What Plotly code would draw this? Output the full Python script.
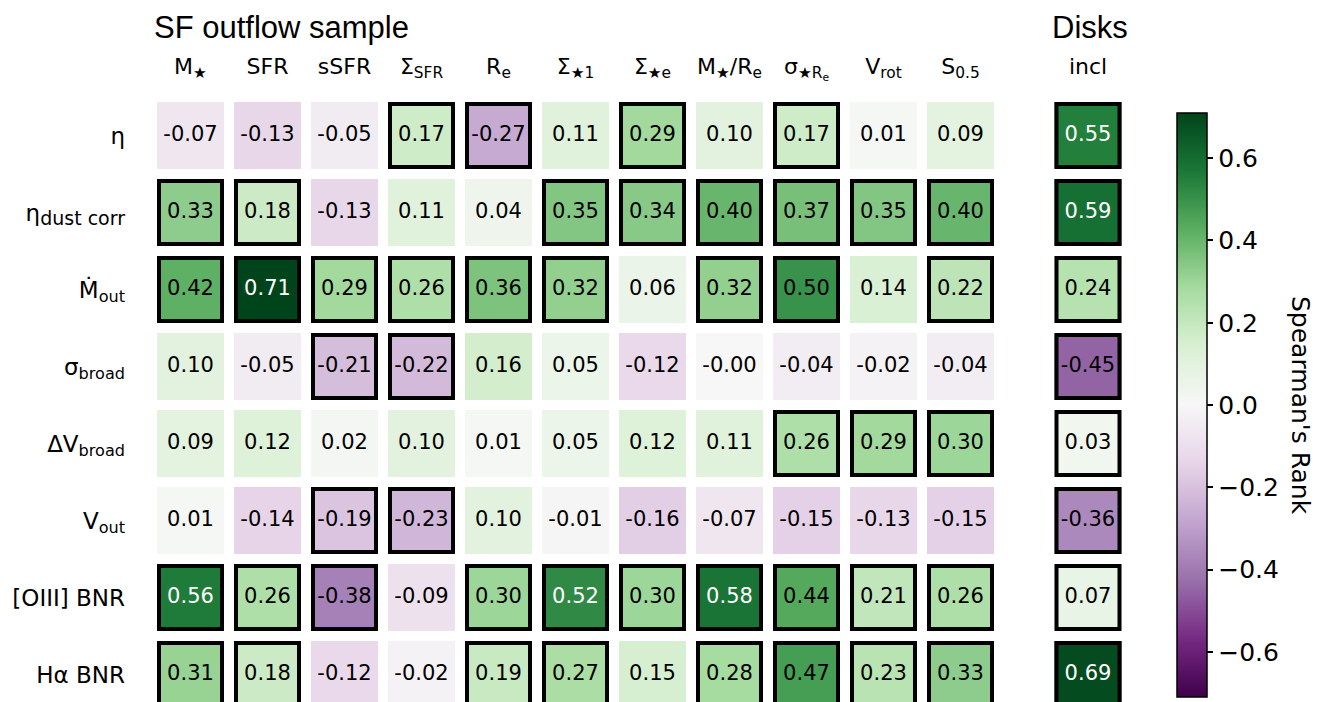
import plotly.graph_objects as go

# ---------------- data ----------------
col_labels = ["M<sub>★</sub>", "SFR", "sSFR", "Σ<sub>SFR</sub>", "R<sub>e</sub>",
              "Σ<sub>★1</sub>", "Σ<sub>★e</sub>", "M<sub>★</sub>/R<sub>e</sub>",
              "σ<sub>★R<sub>e</sub></sub>", "V<sub>rot</sub>", "S<sub>0.5</sub>"]
disk_labels = ["incl"]
row_labels = ["η", "η<sub><span style='font-size:19px'>dust corr</span></sub>",
              "Ṁ<sub>out</sub>", "σ<sub>broad</sub>",
              "ΔV<sub>broad</sub>", "V<sub>out</sub>", "[OIII] BNR", "Hα BNR"]

sf_values = [
    [-0.07, -0.13, -0.05, 0.17, -0.27, 0.11, 0.29, 0.10, 0.17, 0.01, 0.09],
    [0.33, 0.18, -0.13, 0.11, 0.04, 0.35, 0.34, 0.40, 0.37, 0.35, 0.40],
    [0.42, 0.71, 0.29, 0.26, 0.36, 0.32, 0.06, 0.32, 0.50, 0.14, 0.22],
    [0.10, -0.05, -0.21, -0.22, 0.16, 0.05, -0.12, -0.0, -0.04, -0.02, -0.04],
    [0.09, 0.12, 0.02, 0.10, 0.01, 0.05, 0.12, 0.11, 0.26, 0.29, 0.30],
    [0.01, -0.14, -0.19, -0.23, 0.10, -0.01, -0.16, -0.07, -0.15, -0.13, -0.15],
    [0.56, 0.26, -0.38, -0.09, 0.30, 0.52, 0.30, 0.58, 0.44, 0.21, 0.26],
    [0.31, 0.18, -0.12, -0.02, 0.19, 0.27, 0.15, 0.28, 0.47, 0.23, 0.33],
]
sf_significant = [
    [0, 0, 0, 1, 1, 0, 1, 0, 1, 0, 0],
    [1, 1, 0, 0, 0, 1, 1, 1, 1, 1, 1],
    [1, 1, 1, 1, 1, 1, 0, 1, 1, 0, 1],
    [0, 0, 1, 1, 0, 0, 0, 0, 0, 0, 0],
    [0, 0, 0, 0, 0, 0, 0, 0, 1, 1, 1],
    [0, 0, 1, 1, 0, 0, 0, 0, 0, 0, 0],
    [1, 1, 1, 0, 1, 1, 1, 1, 1, 1, 1],
    [1, 1, 0, 0, 1, 1, 0, 1, 1, 1, 1],
]
disk_values = [0.55, 0.59, 0.24, -0.45, 0.03, -0.36, 0.07, 0.69]
disk_significant = [1, 1, 1, 1, 1, 1, 1, 1]

cbar_ticks = [-0.6, -0.4, -0.2, 0.0, 0.2, 0.4, 0.6]

# ---------------- layout constants ----------------
W, H = 1332, 702
PITCH = 77.0
GAP = 10
BORDER_W = 4
main_left = 144.0
disk_left = 1041.5
plot_top = 89
ZMAX = 0.71

n_rows = len(row_labels)
n_cols = len(col_labels)
y_bottom_range = (H - plot_top) / PITCH - 0.5

FONT = "DejaVu Sans"
cs = "PRGn"

fig = go.Figure()

fig.add_trace(go.Heatmap(
    z=sf_values, x=list(range(n_cols)), y=list(range(n_rows)),
    colorscale=cs, zmin=-ZMAX, zmax=ZMAX, xgap=GAP, ygap=GAP,
    hoverinfo="skip",
    colorbar=dict(
        x=1169 / W, xanchor="left", xpad=0, ypad=0,
        y=1 - 397 / H, yanchor="middle",
        len=584, lenmode="pixels", thickness=30,
        outlinewidth=1.5, outlinecolor="black",
        tickvals=cbar_ticks,
        ticktext=[("−" if t < 0 else "") + f"{abs(t):.1f}" for t in cbar_ticks],
        ticks="outside", ticklen=6, tickwidth=1.5, tickcolor="black",
        tickfont=dict(family=FONT, size=25, color="black"),
    ),
))
fig.add_trace(go.Heatmap(
    z=[[v] for v in disk_values], x=[0], y=list(range(n_rows)),
    colorscale=cs, zmin=-ZMAX, zmax=ZMAX, xgap=GAP, ygap=GAP,
    showscale=False, hoverinfo="skip", xaxis="x2", yaxis="y2",
))

# cell texts
tx, ty, tt, tc = [], [], [], []
for i, row in enumerate(sf_values):
    for j, v in enumerate(row):
        tx.append(j); ty.append(i); tt.append(f"{v:.2f}")
        tc.append("white" if abs(v) > 0.5 else "black")
fig.add_trace(go.Scatter(x=tx, y=ty, text=tt, mode="text", hoverinfo="skip",
                         textfont=dict(family=FONT, size=21, color=tc),
                         showlegend=False))
dx, dy, dt, dc = [], [], [], []
for i, v in enumerate(disk_values):
    dx.append(0); dy.append(i); dt.append(f"{v:.2f}")
    dc.append("white" if abs(v) > 0.5 else "black")
fig.add_trace(go.Scatter(x=dx, y=dy, text=dt, mode="text", hoverinfo="skip",
                         textfont=dict(family=FONT, size=21, color=dc),
                         showlegend=False, xaxis="x2", yaxis="y2"))

# significance borders
inset = (GAP / 2 + BORDER_W / 2) / PITCH
shapes = []
for i, row in enumerate(sf_significant):
    for j, s in enumerate(row):
        if s:
            shapes.append(dict(type="rect", xref="x", yref="y",
                               x0=j - 0.5 + inset, x1=j + 0.5 - inset,
                               y0=i - 0.5 + inset, y1=i + 0.5 - inset,
                               line=dict(color="black", width=BORDER_W)))
for i, s in enumerate(disk_significant):
    if s:
        shapes.append(dict(type="rect", xref="x2", yref="y2",
                           x0=-0.5 + inset, x1=0.5 - inset,
                           y0=i - 0.5 + inset, y1=i + 0.5 - inset,
                           line=dict(color="black", width=BORDER_W)))

ydom = [0, (H - plot_top) / H]
axis_common = dict(showgrid=False, zeroline=False, showline=False, ticks="")
fig.update_layout(
    width=W, height=H, margin=dict(l=0, r=0, t=0, b=0),
    paper_bgcolor="white", plot_bgcolor="white", showlegend=False,
    shapes=shapes,
    xaxis=dict(domain=[main_left / W, (main_left + PITCH * n_cols) / W],
               range=[-0.5, n_cols - 0.5], side="top", anchor="y",
               tickvals=list(range(n_cols)), ticktext=col_labels,
               tickfont=dict(family=FONT, size=22, color="black"),
               ticklabelstandoff=18, **axis_common),
    yaxis=dict(domain=ydom, range=[y_bottom_range, -0.5], anchor="x",
               tickvals=list(range(n_rows)), ticktext=row_labels,
               tickfont=dict(family=FONT, size=23, color="black"),
               ticklabelstandoff=26, **axis_common),
    xaxis2=dict(domain=[disk_left / W, (disk_left + PITCH) / W],
                range=[-0.5, 0.5], side="top", anchor="y2",
                tickvals=[0], ticktext=disk_labels,
                tickfont=dict(family=FONT, size=22, color="black"),
                ticklabelstandoff=18, **axis_common),
    yaxis2=dict(domain=ydom, range=[y_bottom_range, -0.5], anchor="x2",
                showticklabels=False, **axis_common),
    annotations=[
        dict(text="SF outflow sample", xref="paper", yref="paper",
             x=main_left / W, y=1, xanchor="left", yanchor="top",
             showarrow=False, font=dict(family="Liberation Sans", size=31, color="black")),
        dict(text="Disks", xref="paper", yref="paper",
             x=disk_left / W, y=1, xanchor="left", yanchor="top",
             showarrow=False, font=dict(family="Liberation Sans", size=31, color="black")),
        dict(text="Spearman's Rank", xref="paper", yref="paper",
             x=1293 / W, y=1 - 397 / H, xanchor="center", yanchor="middle",
             textangle=90, showarrow=False,
             font=dict(family=FONT, size=25, color="black")),
    ],
)

fig.write_html("out.html")
